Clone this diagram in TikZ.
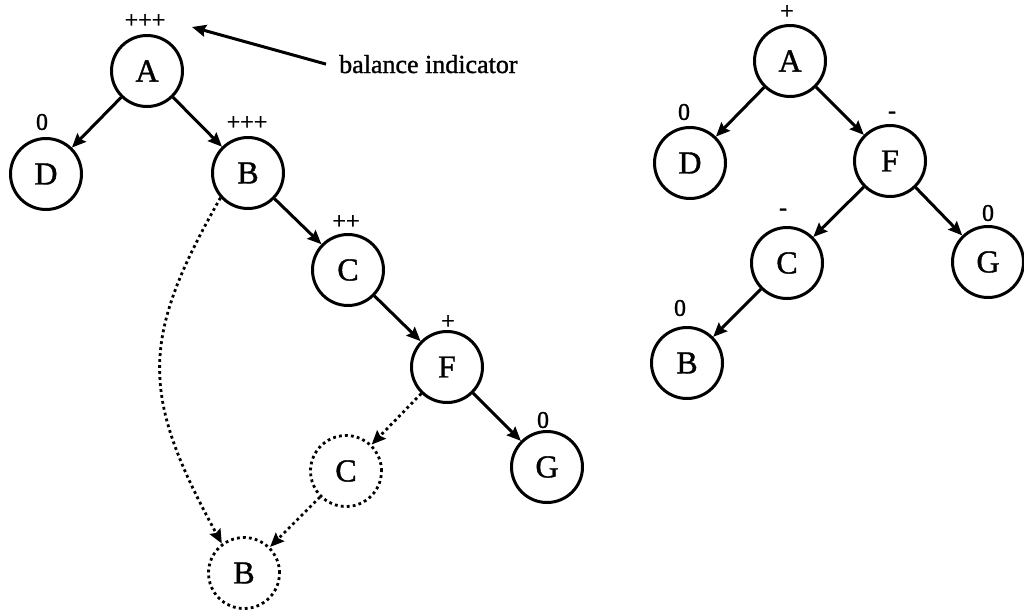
\documentclass[tikz,border=0pt]{standalone}
\usepackage{fontspec}
\setmainfont{Liberation Serif}
\newfontfamily\heavyserif[FakeBold=1.2]{Liberation Serif}
\usetikzlibrary{arrows.meta}
\begin{document}
\begin{tikzpicture}[x=1pt,y=-1pt,
  tnode/.style={circle,draw,line width=3pt,minimum size=71pt,inner sep=0pt,font=\heavyserif\fontsize{32}{32}\selectfont},
  ghost/.style={circle,draw,line width=2.8pt,dash pattern={on 2.8pt off 3.2pt},minimum size=71pt,inner sep=0pt,font=\heavyserif\fontsize{32}{32}\selectfont},
  bal/.style={inner sep=0pt,font=\heavyserif\fontsize{24}{24}\selectfont},
  edge/.style={line width=3pt,-{Stealth[length=14pt,width=12pt,inset=2pt]}},
  dedge/.style={line width=2.8pt,dash pattern={on 2.8pt off 3.2pt},-{Stealth[length=14pt,width=12pt,inset=2pt]}}
]
\useasboundingbox (0,0) rectangle (1024,611);
% left tree
\node[tnode] (A) at (147,71) {A};
\node[tnode] (D) at (46,174) {D};
\node[tnode] (B) at (248,173) {B};
\node[tnode] (C) at (348,270) {C};
\node[tnode] (F) at (447,367) {F};
\node[tnode] (G) at (547,467) {G};
\node[ghost] (Cd) at (346,471) {C};
\node[ghost] (Bd) at (244,573) {B};
\node[bal] (lA) at (145,21) {+++};
\node[bal] (lD) at (42,122) {0};
\node[bal] (lB) at (247,123) {+++};
\node[bal] (lC) at (346,222) {++};
\node[bal] (lF) at (448,322) {+};
\node[bal] (lG) at (543,420) {0};
\draw[edge] (A) -- (D);
\draw[edge] (A) -- (B);
\draw[edge] (B) -- (C);
\draw[edge] (C) -- (F);
\draw[edge] (F) -- (G);
\draw[dedge] (F) -- (Cd);
\draw[dedge] (Cd) -- (Bd);
\draw[dedge] (B.222) .. controls (140,339) and (140,394) .. (Bd.127);
% annotation
\node[inner sep=0pt,anchor=base west,font=\heavyserif\fontsize{26}{26}\selectfont] (note) at (339,73) {balance indicator};
\coordinate (tipA) at (192,27);
\draw[edge] ([xshift=-13pt]note.west) -- (tipA);
% right tree
\node[tnode] (A2) at (790,61) {A};
\node[tnode] (D2) at (690,163) {D};
\node[tnode] (F2) at (890,161) {F};
\node[tnode] (C2) at (787,263) {C};
\node[tnode] (G2) at (988,262) {G};
\node[tnode] (B2) at (687,363) {B};
\node[bal] (lA2) at (787,12) {+};
\node[bal] (lD2) at (684,112) {0};
\node[bal] (lF2) at (892,115) {-};
\node[bal] (lC2) at (783,212) {-};
\node[bal] (lG2) at (988,213) {0};
\node[bal] (lB2) at (680,308) {0};
\draw[edge] (A2) -- (D2);
\draw[edge] (A2) -- (F2);
\draw[edge] (F2) -- (C2);
\draw[edge] (F2) -- (G2);
\draw[edge] (C2) -- (B2);
\end{tikzpicture}
\end{document}
